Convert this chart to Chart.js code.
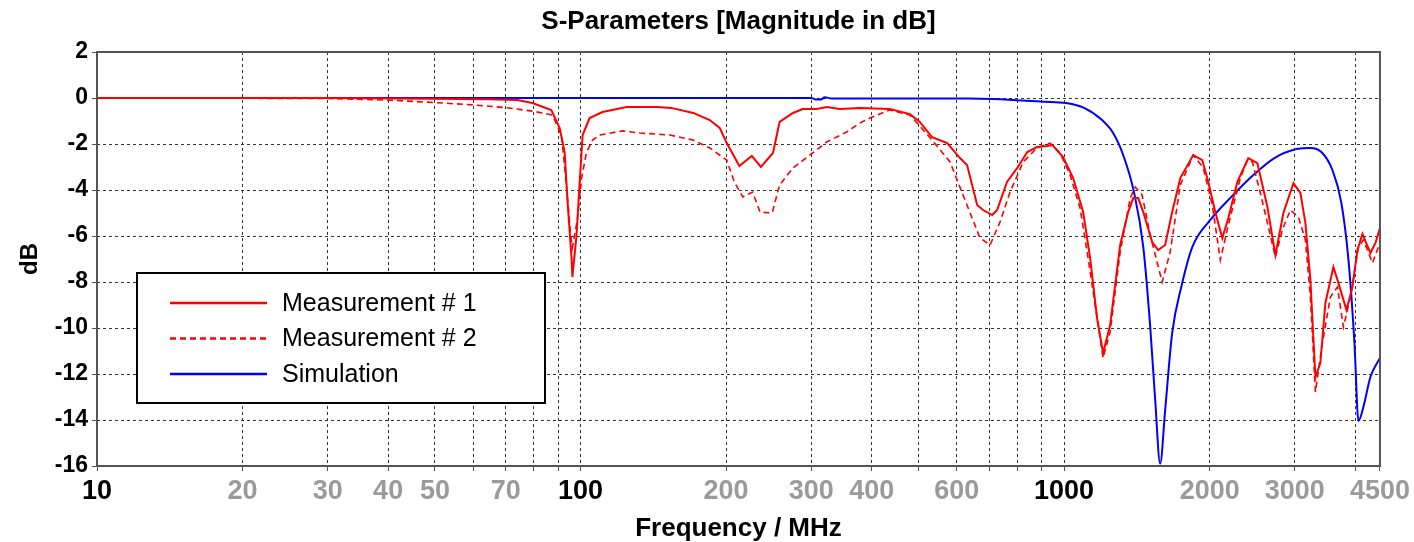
<!DOCTYPE html>
<html>
<head>
<meta charset="utf-8">
<title>S-Parameters</title>
<script src="https://cdn.jsdelivr.net/npm/chart.js@4.4.1/dist/chart.umd.min.js"></script>
<style>
  html, body { margin: 0; padding: 0; background: #fff; }
  #wrap { width: 1414px; height: 542px; }
</style>
</head>
<body>
<div id="wrap"><canvas id="sparamChart" width="1414" height="542"></canvas></div>
<script>
// frequencies in MHz, magnitudes in dB
var m1Freq = [10, 30, 42, 64, 74, 79.5, 87, 90.5, 92.7, 94, 95.8, 96.2, 98.1, 99.5, 101, 104.4, 111, 124.5, 144, 154,
  171, 185, 194, 200.6, 213, 226, 236, 250, 258, 275, 288, 308, 323, 344, 378, 436, 480, 503, 533, 573,
  609, 630, 661, 680, 710, 727, 762, 800, 839, 879, 922, 945, 995, 1044, 1095, 1132, 1170, 1204, 1245, 1306,
  1357, 1390, 1423, 1458, 1521, 1565, 1618, 1673, 1739, 1850, 1931, 1987, 2054, 2124, 2186, 2282, 2404, 2510, 2633, 2735,
  2841, 2980, 3081, 3155, 3231, 3309, 3388, 3470, 3605, 3692, 3836, 3947, 4042, 4140, 4300, 4405, 4500];
var m1Db = [0, 0, -0.02, -0.05, -0.09, -0.22, -0.52, -1.30, -2.35, -4.52, -6.96, -7.78, -5.96, -3.78, -1.61, -0.87, -0.61, -0.39, -0.39, -0.43,
  -0.65, -0.96, -1.30, -1.96, -2.96, -2.52, -3.00, -2.39, -1.04, -0.65, -0.48, -0.48, -0.39, -0.48, -0.43, -0.48, -0.70, -1.04, -1.70, -1.96,
  -2.61, -2.91, -4.65, -4.87, -5.09, -4.87, -3.65, -3.04, -2.35, -2.13, -2.09, -2.04, -2.57, -3.48, -4.96, -6.96, -9.57, -11.09, -9.87, -6.39,
  -4.96, -4.35, -4.35, -4.96, -6.26, -6.61, -6.39, -4.96, -3.48, -2.48, -2.70, -3.65, -4.96, -6.09, -5.22, -3.65, -2.61, -2.83, -4.74, -6.83,
  -5.00, -3.70, -4.13, -5.43, -7.91, -12.13, -11.52, -8.91, -7.35, -8.04, -9.22, -8.22, -6.61, -5.91, -6.74, -6.30, -5.65];

var m2Freq = [10, 30, 40, 50, 60, 70, 79.5, 87.5, 91.3, 93.5, 95.4, 96.2, 98.6, 100.5, 102.9, 105.9, 109.5, 122, 132.5, 153,
  171, 185, 200.6, 208, 216.5, 227, 235, 249, 258, 275, 302, 323, 355, 378, 397, 436, 480, 533, 581, 618,
  670, 703, 737, 773, 823, 879, 935, 981, 1029, 1079, 1121, 1176, 1204, 1245, 1306, 1370, 1403, 1450, 1507, 1595,
  1657, 1739, 1850, 1940, 2025, 2104, 2186, 2315, 2393, 2451, 2546, 2645, 2735, 2827, 2937, 3051, 3155, 3231, 3309, 3421,
  3554, 3675, 3781, 3910, 4062, 4159, 4342, 4500];
var m2Db = [0, -0.02, -0.09, -0.20, -0.30, -0.42, -0.57, -0.74, -1.61, -3.78, -5.96, -6.5, -5.22, -3.48, -2.35, -1.83, -1.61, -1.43, -1.52, -1.61,
  -1.83, -2.17, -2.70, -3.65, -4.30, -4.09, -4.96, -5.00, -3.78, -3.04, -2.39, -1.91, -1.48, -1.09, -0.87, -0.52, -0.74, -1.83, -2.78, -4.22,
  -6.09, -6.39, -5.39, -4.09, -2.78, -2.17, -1.96, -2.39, -3.35, -4.78, -6.96, -9.87, -11.3, -10.17, -6.70, -4.35, -3.87, -4.22, -5.96, -8.00,
  -6.70, -3.78, -2.48, -3.04, -4.65, -7.04, -5.52, -3.48, -2.70, -2.78, -4.13, -5.61, -6.91, -5.74, -4.87, -5.17, -6.17, -8.65, -12.78, -10.65,
  -8.65, -8.22, -9.96, -8.65, -6.48, -6.17, -7.17, -6.30];

var simFreq = [10, 300, 306, 314, 320, 330, 636, 909, 1010, 1100, 1198, 1263, 1325, 1396, 1458, 1507, 1543, 1580, 1618, 1673,
  1747, 1841, 2006, 2217, 2462, 2722, 3022, 3231, 3405, 3588, 3745, 3873, 3985, 4062, 4159, 4300, 4500];
var simDb = [0, 0, -0.06, -0.06, 0.03, -0.02, -0.02, -0.16, -0.22, -0.43, -0.96, -1.52, -2.48, -4.13, -6.48, -9.96, -13.13, -15.9, -13.57, -10.22,
  -8.22, -6.48, -5.30, -4.30, -3.35, -2.61, -2.22, -2.17, -2.35, -3.13, -4.57, -7.04, -10.65, -14.04, -13.43, -12.13, -11.30];

var seriesLabels = ["Measurement # 1", "Measurement # 2", "Simulation"];

// x grid at every decade subdivision, only some are labelled
var xGridTicks = [10, 20, 30, 40, 50, 60, 70, 80, 90, 100, 200, 300, 400, 500, 600, 700, 800, 900, 1000, 2000, 3000, 4000, 4500];
var xLabelTicks = [10, 20, 30, 40, 50, 70, 100, 200, 300, 400, 600, 1000, 2000, 3000, 4500];
var xMajorTicks = [10, 100, 1000];

function toPoints(xs, ys) {
  return xs.map(function (x, i) { return { x: x, y: ys[i] }; });
}

document.addEventListener("DOMContentLoaded", function () {
  // box around the plot area
  var framePlugin = {
    id: "frame",
    afterDatasetsDraw: function (chart) {
      var a = chart.chartArea, ctx = chart.ctx;
      ctx.save();
      ctx.strokeStyle = "#555";
      ctx.lineWidth = 2;
      ctx.strokeRect(a.left, a.top, a.right - a.left, a.bottom - a.top);
      ctx.restore();
    }
  };

  // legend drawn as a framed box inside the plot area
  var boxLegend = {
    id: "boxLegend",
    afterDraw: function (chart) {
      var a = chart.chartArea, ctx = chart.ctx;
      var x = a.left + 40, y = a.top + 221, w = 408, h = 130;
      ctx.save();
      ctx.fillStyle = "#fff";
      ctx.fillRect(x, y, w, h);
      ctx.strokeStyle = "#000";
      ctx.lineWidth = 2;
      ctx.strokeRect(x, y, w, h);
      ctx.font = "25px 'Liberation Sans', Arial, sans-serif";
      ctx.textBaseline = "middle";
      chart.data.datasets.forEach(function (ds, i) {
        var ly = y + 30 + i * 35.5;
        ctx.strokeStyle = ds.borderColor;
        ctx.lineWidth = 2.5;
        ctx.setLineDash(ds.borderDash || []);
        ctx.beginPath();
        ctx.moveTo(x + 33, ly);
        ctx.lineTo(x + 130, ly);
        ctx.stroke();
        ctx.setLineDash([]);
        ctx.fillStyle = "#000";
        ctx.fillText(ds.label, x + 145, ly + 1);
      });
      ctx.restore();
    }
  };

  var ctx = document.getElementById("sparamChart").getContext("2d");
  var sparamChart = new Chart(ctx, {
    type: "line",
    data: {
      datasets: [
        {
          label: seriesLabels[0],
          data: toPoints(m1Freq, m1Db),
          borderColor: "#ff0000",
          borderWidth: 2,
          pointRadius: 0,
          tension: 0
        },
        {
          label: seriesLabels[1],
          data: toPoints(m2Freq, m2Db),
          borderColor: "#ff0000",
          borderWidth: 1.6,
          borderDash: [6, 4],
          pointRadius: 0,
          tension: 0
        },
        {
          label: seriesLabels[2],
          data: toPoints(simFreq, simDb),
          borderColor: "#0000ff",
          borderWidth: 2,
          pointRadius: 0,
          cubicInterpolationMode: "monotone"
        }
      ]
    },
    options: {
      responsive: false,
      animation: false,
      layout: { padding: { left: 0, right: 33, top: 0, bottom: 0 } },
      plugins: {
        legend: { display: false },
        tooltip: { enabled: false },
        title: {
          display: true,
          fullSize: false,
          text: "S-Parameters [Magnitude in dB]",
          color: "#000",
          font: { family: "'Liberation Sans', Arial, sans-serif", size: 26, weight: "bold", lineHeight: 1.2 },
          padding: { top: 6, bottom: 14.8 }
        }
      },
      scales: {
        x: {
          type: "logarithmic",
          min: 10,
          max: 4500,
          afterBuildTicks: function (scale) {
            scale.ticks = xGridTicks.map(function (v) { return { value: v }; });
          },
          afterFit: function (scale) { scale.height = 76; },
          grid: { color: "#333", lineWidth: 1, tickLength: 5, tickColor: "#555" },
          border: { display: false, dash: [3, 3] },
          ticks: {
            autoSkip: false,
            maxRotation: 0,
            padding: 4,
            font: { family: "'Liberation Sans Narrow', 'Liberation Sans', Arial, sans-serif", size: 27, weight: "bold" },
            color: function (c) { return xMajorTicks.indexOf(c.tick.value) >= 0 ? "#000" : "#9a9a9a"; },
            callback: function (value) { return xLabelTicks.indexOf(value) >= 0 ? String(value) : ""; }
          },
          title: {
            display: true,
            text: "Frequency / MHz",
            color: "#000",
            font: { family: "'Liberation Sans', Arial, sans-serif", size: 26, weight: "bold", lineHeight: 1 },
            padding: { top: 0, bottom: 0 }
          }
        },
        y: {
          min: -16,
          max: 2,
          afterFit: function (scale) { scale.width = 97; },
          grid: { color: "#333", lineWidth: 1, tickLength: 5, tickColor: "#555" },
          border: { display: false, dash: [3, 3] },
          ticks: {
            stepSize: 2,
            padding: 4,
            color: "#000",
            font: { family: "'Liberation Sans', Arial, sans-serif", size: 23, weight: "bold" }
          },
          title: {
            display: true,
            text: "dB",
            color: "#000",
            font: { family: "'Liberation Sans', Arial, sans-serif", size: 24, weight: "bold", lineHeight: 1 },
            padding: { top: 18, bottom: 0 }
          }
        }
      }
    },
    plugins: [framePlugin, boxLegend]
  });
});
</script>
</body>
</html>
